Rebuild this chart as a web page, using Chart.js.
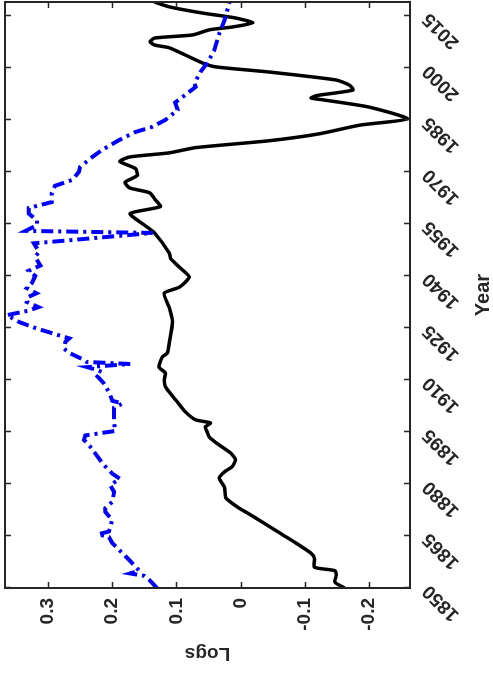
<!DOCTYPE html>
<html>
<head>
<meta charset="utf-8">
<script src="https://cdn.jsdelivr.net/npm/chart.js@4/dist/chart.umd.min.js"></script>
<style>
  html, body { margin: 0; padding: 0; background: #fff; overflow: hidden; }
  #wrap {
    position: absolute; left: 0; top: 0;
    width: 674px; height: 493px;
    transform-origin: 0 0;
    transform: translate(0, 674px) rotate(-90deg);
  }
</style>
</head>
<body>
<div id="wrap"><canvas id="chart" width="674" height="493"></canvas></div>
<script>
// black series (solid)
const blackYears = [1850, 1851.7, 1853.7, 1855, 1856, 1858.6, 1860, 1863, 1865.3, 1869, 1871.6, 1873,
  1876, 1879, 1881.7, 1883.5, 1885, 1887, 1889, 1892, 1893.6, 1895, 1896.4, 1897.6, 1898.5, 1900.8,
  1904, 1908, 1910, 1912, 1913.7, 1916.6, 1917.8, 1920.7, 1926.7, 1930.8, 1935, 1936.8, 1939.7,
  1942.3, 1945, 1946.6, 1952.4, 1954.7, 1958, 1960, 1962, 1964, 1965.4, 1967, 1969, 1971, 1973,
  1974.3, 1975.5, 1977, 1979, 1981, 1983.5, 1985.3, 1988.7, 1990.8, 1991.3, 1992, 1993.6, 1995,
  1996.5, 1998.8, 2000.3, 2001.4, 2003.7, 2005.8, 2006.6, 2007.5, 2008.6, 2009.5, 2011, 2011.8,
  2013, 2014.4, 2015.8, 2017.6, 2019];
const blackValues = [-0.162, -0.147, -0.149, -0.147, -0.115, -0.115, -0.110, -0.086, -0.066, -0.034, -0.011, 0.002,
  0.023, 0.025, 0.033, 0.025, 0.013, 0.008, 0.016, 0.039, 0.049, 0.052, 0.055, 0.047, 0.070, 0.086,
  0.100, 0.117, 0.119, 0.117, 0.127, 0.122, 0.114, 0.111, 0.106, 0.111, 0.119, 0.095, 0.080,
  0.094, 0.109, 0.111, 0.134, 0.150, 0.172, 0.125, 0.133, 0.142, 0.173, 0.180, 0.161, 0.164, 0.188,
  0.173, 0.111, 0.070, -0.045, -0.123, -0.186, -0.260, -0.200, -0.128, -0.110, -0.118, -0.175, -0.170,
  -0.149, -0.045, 0.039, 0.059, 0.086, 0.111, 0.134, 0.141, 0.134, 0.075, 0.048, 0.0125,
  -0.019, 0.008, 0.059, 0.111, 0.134];

// blue series (dash-dot)
const blueYears = [1850, 1852.3, 1853.5, 1854.2, 1855, 1858, 1863, 1864.7, 1865.5, 1866.3, 1869.6, 1872,
  1873, 1874.8, 1877.7, 1879.7, 1881.5, 1883, 1885.5, 1890.7, 1892.7, 1894, 1895.3, 1897.6, 1902,
  1903.2, 1904, 1906.5, 1909, 1911, 1912.3, 1913, 1913.7, 1914.6, 1915.2, 1915.8, 1917.8, 1919, 1921,
  1922, 1923.5, 1925, 1926.7, 1928.7, 1930, 1931, 1932.5, 1934, 1935, 1936.5, 1938, 1940, 1941.5,
  1943, 1945.5, 1947, 1949.4, 1952.4, 1953, 1954.7, 1956, 1958, 1959.6, 1961.3, 1963.9, 1966,
  1967.7, 1970, 1971.4, 1974.3, 1976.3, 1979.2, 1981.5, 1983, 1985, 1987.9, 1990, 1992, 1994.5,
  1995.6, 1998.8, 2001.4, 2005, 2010, 2013.8, 2019];
const blueValues = [0.130, 0.142, 0.150, 0.172, 0.158, 0.173, 0.200, 0.205, 0.222, 0.205, 0.200, 0.211,
  0.211, 0.200, 0.197, 0.203, 0.188, 0.200, 0.213, 0.234, 0.244, 0.242, 0.195, 0.197, 0.197,
  0.184, 0.200, 0.205, 0.213, 0.223, 0.216, 0.226, 0.239, 0.172, 0.240, 0.244, 0.267, 0.275, 0.273,
  0.267, 0.294, 0.320, 0.345, 0.364, 0.330, 0.315, 0.333, 0.330, 0.318, 0.333, 0.325, 0.320, 0.330,
  0.312, 0.320, 0.314, 0.322, 0.137, 0.335, 0.317, 0.317, 0.330, 0.330, 0.294, 0.294, 0.289,
  0.262, 0.252, 0.250, 0.231, 0.216, 0.189, 0.164, 0.1375, 0.117, 0.098, 0.102, 0.0875, 0.070,
  0.072, 0.0625, 0.052, 0.041, 0.033, 0.025, 0.017];

const yearTicks = [1850, 1865, 1880, 1895, 1910, 1925, 1940, 1955, 1970, 1985, 2000, 2015];
const logTicks = [-0.2, -0.1, 0, 0.1, 0.2, 0.3];
const yearMin = 1850, yearMax = 2019;
const logMin = -0.264, logMax = 0.367;

const axisColor = '#262626';
const tickFont = { family: 'Liberation Sans', size: 19, weight: 'bold' };

// MATLAB-style box with inward ticks on all four sides
const boxTicks = {
  id: 'boxTicks',
  afterDraw(chart) {
    const { ctx, chartArea: a, scales } = chart;
    const len = 6;
    ctx.save();
    ctx.strokeStyle = axisColor;
    ctx.lineWidth = 1.5;
    ctx.beginPath();
    scales.x.ticks.forEach(t => {
      const px = Math.round(scales.x.getPixelForValue(t.value)) + 0.5;
      ctx.moveTo(px, a.bottom); ctx.lineTo(px, a.bottom - len);
      ctx.moveTo(px, a.top); ctx.lineTo(px, a.top + len);
    });
    scales.y.ticks.forEach(t => {
      const py = Math.round(scales.y.getPixelForValue(t.value)) + 0.5;
      ctx.moveTo(a.left, py); ctx.lineTo(a.left + len, py);
      ctx.moveTo(a.right, py); ctx.lineTo(a.right - len, py);
    });
    ctx.stroke();
    ctx.lineWidth = 2;
    ctx.strokeRect(a.left, a.top, a.right - a.left, a.bottom - a.top);
    ctx.restore();
  }
};

new Chart(document.getElementById('chart').getContext('2d'), {
  type: 'line',
  data: {
    datasets: [
      {
        data: blueYears.map((x, i) => ({ x: x, y: blueValues[i] })),
        borderColor: '#0000ff',
        borderWidth: 4,
        borderDash: [12, 5, 3, 5],
        borderCapStyle: 'butt',
        pointRadius: 0,
        tension: 0
      },
      {
        data: blackYears.map((x, i) => ({ x: x, y: blackValues[i] })),
        borderColor: '#000000',
        borderWidth: 3.5,
        pointRadius: 0,
        tension: 0.2
      }
    ]
  },
  options: {
    responsive: false,
    animation: false,
    layout: { padding: { top: 5, right: 2, left: 0, bottom: 0 } },
    plugins: { legend: { display: false }, tooltip: { enabled: false } },
    scales: {
      x: {
        type: 'linear',
        min: yearMin,
        max: yearMax,
        grid: { drawOnChartArea: false, drawTicks: false },
        border: { display: false },
        afterBuildTicks: s => { s.ticks = yearTicks.map(v => ({ value: v })); },
        ticks: {
          autoSkip: false,
          minRotation: 45,
          maxRotation: 45,
          padding: 8,
          color: axisColor,
          font: tickFont,
          callback: v => String(v)
        },
        title: {
          display: true,
          text: 'Year',
          color: axisColor,
          font: { family: 'Liberation Sans', size: 20, weight: 'bold', lineHeight: 1 },
          padding: { top: 0, bottom: 0 }
        },
        afterFit: s => { s.height = 83; s.paddingLeft = 0; s.paddingRight = 0; }
      },
      y: {
        min: logMin,
        max: logMax,
        grid: { drawOnChartArea: false, drawTicks: false },
        border: { display: false },
        afterBuildTicks: s => { s.ticks = logTicks.map(v => ({ value: v })); },
        ticks: {
          padding: 10,
          color: axisColor,
          font: tickFont,
          callback: v => String(v)
        },
        title: {
          display: true,
          text: 'Logs',
          color: axisColor,
          font: { family: 'Liberation Sans', size: 19, weight: 'bold', lineHeight: 1 },
          padding: { top: 11, bottom: 0 }
        },
        afterFit: s => { s.width = 86; s.paddingTop = 0; s.paddingBottom = 0; }
      }
    }
  },
  plugins: [boxTicks]
});
</script>
</body>
</html>
